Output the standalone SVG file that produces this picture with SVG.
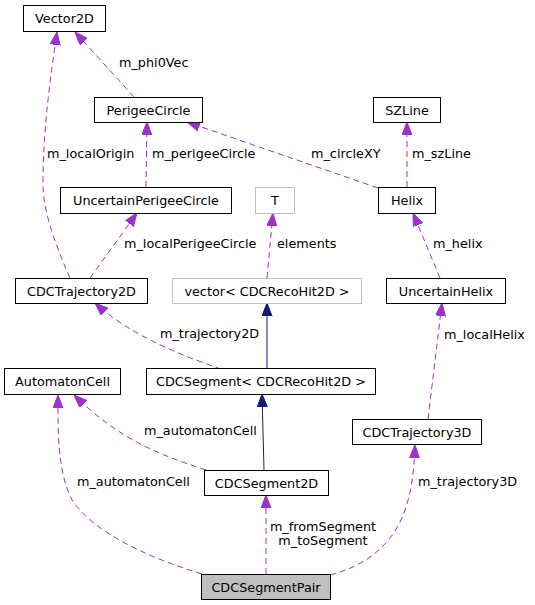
<svg xmlns="http://www.w3.org/2000/svg" width="535" height="605" viewBox="0 0 535 605">
<style>
.box{fill:#ffffff;stroke:#000000;stroke-width:1}
.gbox{fill:#ffffff;stroke:#bfbfbf;stroke-width:1}
.sel{fill:#bfbfbf;stroke:#000000;stroke-width:1}
text{font-family:"DejaVu Sans","Liberation Sans",sans-serif;font-size:12.8px;fill:#000000}
.n{text-anchor:middle}
.d{fill:none;stroke:#9a32cd;stroke-width:1;stroke-dasharray:6,4;marker-end:url(#ap)}
.s{fill:none;stroke:#191970;stroke-width:1;marker-end:url(#an)}
</style>
<defs>
<marker id="ap" markerUnits="userSpaceOnUse" markerWidth="15" markerHeight="12" refX="13" refY="5" orient="auto">
<path d="M0,0 L13,5 L0,10 z" fill="#9a32cd" stroke="#9a32cd"/>
</marker>
<marker id="an" markerUnits="userSpaceOnUse" markerWidth="15" markerHeight="12" refX="13" refY="5" orient="auto">
<path d="M0,0 L13,5 L0,10 z" fill="#191970" stroke="#191970"/>
</marker>
</defs>
<rect width="535" height="605" fill="#ffffff"/>
<g id="edges">
<path class="d" d="M134,97 L75,32"/>
<text x="119" y="67">m_phi0Vec</text>
<path class="d" d="M70,278 C60,255 43,215 43,185 C43,130 50,80 57,32"/>
<text x="47" y="158">m_localOrigin</text>
<path class="d" d="M146,187 L147,122"/>
<text x="152" y="158">m_perigeeCircle</text>
<path class="d" d="M378,188 L187,122"/>
<text x="311" y="158">m_circleXY</text>
<path class="d" d="M407,187 L407,122"/>
<text x="412" y="158">m_szLine</text>
<path class="d" d="M90,278 L137,213"/>
<text x="124" y="248">m_localPerigeeCircle</text>
<path class="d" d="M267,278 L273,213"/>
<text x="277" y="248">elements</text>
<path class="d" d="M440,278 L413,213"/>
<text x="433" y="248">m_helix</text>
<path class="s" d="M267,369 L267,303"/>
<path class="d" d="M221,369 C180,355 130,335 95,303"/>
<text x="160" y="338">m_trajectory2D</text>
<path class="d" d="M428,419 L442,303"/>
<text x="444" y="339">m_localHelix</text>
<path class="s" d="M264,470 L262,394"/>
<path class="d" d="M206,470 C160,455 120,440 74,395"/>
<text x="144" y="435">m_automatonCell</text>
<path class="d" d="M202,574 C140,555 92,530 72,500 C57,470 58,430 58,395"/>
<text x="77" y="486">m_automatonCell</text>
<path class="d" d="M266,574 L266,495"/>
<text x="323" y="531" class="n">m_fromSegment</text>
<text x="323" y="545" class="n">m_toSegment</text>
<path class="d" d="M330,575 C370,565 395,540 405,510 C412,490 414,470 415,445"/>
<text x="418" y="486">m_trajectory3D</text>
</g>
<g id="Vector2D"><rect class="box" x="23.5" y="5.5" width="82" height="26"/><text class="n" x="64.5" y="23">Vector2D</text></g>
<g id="PerigeeCircle"><rect class="box" x="94.5" y="97.5" width="108" height="25"/><text class="n" x="148.5" y="114.5">PerigeeCircle</text></g>
<g id="SZLine"><rect class="box" x="373.5" y="97.5" width="67" height="25"/><text class="n" x="407" y="114.5">SZLine</text></g>
<g id="UncertainPerigeeCircle"><rect class="box" x="60.5" y="187.5" width="171" height="26"/><text class="n" x="146" y="205">UncertainPerigeeCircle</text></g>
<g id="T"><rect class="gbox" x="255.5" y="187.5" width="39" height="26"/><text class="n" x="275" y="205">T</text></g>
<g id="Helix"><rect class="box" x="378.5" y="187.5" width="57" height="26"/><text class="n" x="407" y="205">Helix</text></g>
<g id="CDCTrajectory2D"><rect class="box" x="15.5" y="278.5" width="132" height="25"/><text class="n" x="81.5" y="295.5">CDCTrajectory2D</text></g>
<g id="vector"><rect class="gbox" x="172.5" y="278.5" width="189" height="25"/><text class="n" x="267" y="295.5">vector&lt; CDCRecoHit2D &gt;</text></g>
<g id="UncertainHelix"><rect class="box" x="386.5" y="278.5" width="119" height="25"/><text class="n" x="446" y="295.5">UncertainHelix</text></g>
<g id="AutomatonCell"><rect class="box" x="4.5" y="368.5" width="116" height="26"/><text class="n" x="62.5" y="386">AutomatonCell</text></g>
<g id="CDCSegment"><rect class="box" x="146.5" y="368.5" width="229" height="26"/><text class="n" x="261" y="386">CDCSegment&lt; CDCRecoHit2D &gt;</text></g>
<g id="CDCTrajectory3D"><rect class="box" x="352.5" y="419.5" width="129" height="25"/><text class="n" x="417" y="436.5">CDCTrajectory3D</text></g>
<g id="CDCSegment2D"><rect class="box" x="204.5" y="470.5" width="124" height="25"/><text class="n" x="266.5" y="487.5">CDCSegment2D</text></g>
<g id="CDCSegmentPair"><rect class="sel" x="201.5" y="574.5" width="129" height="25"/><text class="n" x="266" y="591.5">CDCSegmentPair</text></g>
</svg>
